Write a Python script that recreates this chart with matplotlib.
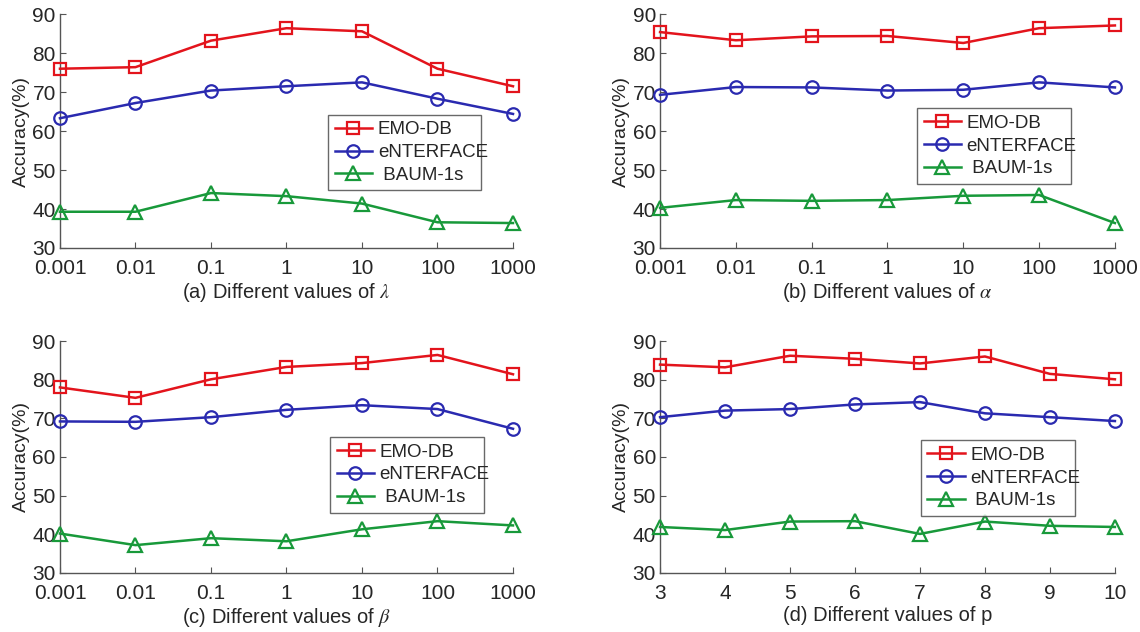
import numpy as np
import matplotlib
matplotlib.use("Agg")
import matplotlib.pyplot as plt

plt.rcParams['font.family'] = ['Liberation Sans', 'DejaVu Sans']
plt.rcParams['mathtext.fontset'] = 'stix'

# data
log_ticks = ["0.001", "0.01", "0.1", "1", "10", "100", "1000"]
p_ticks = ["3", "4", "5", "6", "7", "8", "9", "10"]

emo_a = [76.0, 76.4, 83.2, 86.4, 85.6, 76.0, 71.5]
ent_a = [63.3, 67.2, 70.4, 71.5, 72.5, 68.3, 64.4]
baum_a = [39.3, 39.3, 44.1, 43.3, 41.4, 36.6, 36.4]

emo_b = [85.4, 83.3, 84.3, 84.4, 82.6, 86.4, 87.1]
ent_b = [69.3, 71.3, 71.2, 70.4, 70.6, 72.5, 71.2]
baum_b = [40.3, 42.3, 42.1, 42.3, 43.4, 43.6, 36.4]

emo_c = [78.0, 75.3, 80.1, 83.3, 84.3, 86.4, 81.4]
ent_c = [69.2, 69.1, 70.3, 72.2, 73.4, 72.4, 67.3]
baum_c = [40.2, 37.2, 39.0, 38.2, 41.3, 43.4, 42.3]

emo_d = [83.9, 83.2, 86.2, 85.4, 84.2, 86.0, 81.5, 80.1]
ent_d = [70.3, 72.0, 72.4, 73.6, 74.2, 71.3, 70.3, 69.3]
baum_d = [41.9, 41.1, 43.3, 43.4, 40.1, 43.3, 42.2, 41.9]

labels = ["EMO-DB", "eNTERFACE", " BAUM-1s"]
colors = ["#e3141c", "#2a2ab0", "#18993a"]
markers = ["s", "o", "^"]

panels = [
    ([emo_a, ent_a, baum_a], log_ticks, r"(a) Different values of $\lambda$",
     [0.0526, 0.6076, 0.3974, 0.370], (0.592, 0.238, 0.337, 0.332)),
    ([emo_b, ent_b, baum_b], log_ticks, r"(b) Different values of $\alpha$",
     [0.5790, 0.6076, 0.3990, 0.370], (0.565, 0.268, 0.338, 0.330)),
    ([emo_c, ent_c, baum_c], log_ticks, r"(c) Different values of $\beta$",
     [0.0526, 0.0934, 0.3974, 0.367], (0.596, 0.257, 0.339, 0.329)),
    ([emo_d, ent_d, baum_d], p_ticks, "(d) Different values of p",
     [0.5790, 0.0934, 0.3990, 0.367], (0.573, 0.245, 0.339, 0.328)),
]

fig = plt.figure(figsize=(11.4, 6.32), dpi=100)

for series, ticks, xlab, rect, leg_box in panels:
    ax = fig.add_axes(rect)
    x = np.arange(len(ticks))
    for vals, lab, col, mk in zip(series, labels, colors, markers):
        ax.plot(x, vals, color=col, lw=1.8, marker=mk, ms=9 if mk != "^" else 10,
                mfc="none", mew=1.6, label=lab, clip_on=False, zorder=3)
    ax.set_xlim(0, len(ticks) - 1)
    ax.set_ylim(30, 90)
    ax.set_xticks(x)
    ax.set_xticklabels(ticks)
    ax.set_yticks(range(30, 91, 10))
    for s in ["top", "right"]:
        ax.spines[s].set_visible(False)
    for s in ["left", "bottom"]:
        ax.spines[s].set_color("#555555")
        ax.spines[s].set_linewidth(1.0)
    ax.tick_params(direction="in", length=4, color="#555555",
                   labelsize=15, labelcolor="#262626")
    ax.tick_params(axis="x", pad=8)
    ax.tick_params(axis="y", pad=3)
    ax.set_xlabel(xlab, fontsize=14.5, color="#262626", labelpad=2)
    ax.set_ylabel("Accuracy(%)", fontsize=14, color="#262626", labelpad=2)
    leg = ax.legend(loc="upper left", bbox_to_anchor=leg_box, mode="expand",
                    fontsize=13.5, frameon=True, fancybox=False, borderaxespad=0,
                    handlelength=2.0, handletextpad=0.3, labelspacing=0.3,
                    borderpad=0.35)
    leg.get_frame().set_edgecolor("#444444")
    leg.get_frame().set_linewidth(1.0)
    for t in leg.get_texts():
        t.set_color("#262626")

fig.savefig("out.png", dpi=100)
plt.close(fig)
